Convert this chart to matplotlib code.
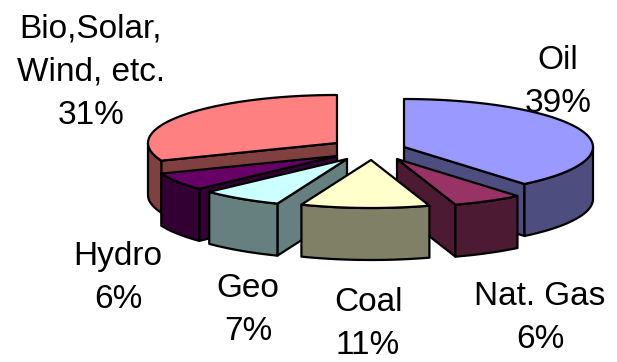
import numpy
import matplotlib
matplotlib.use("Agg")
import matplotlib.pyplot as plt
from matplotlib.patches import Polygon

## slices, clockwise from 12 o'clock
names = ["Oil", "Nat. Gas", "Coal", "Geo", "Hydro", "Bio,Solar,\nWind, etc."]
shares = [39, 6, 11, 7, 6, 31]

top_colours = ["#9999FF", "#993366", "#FFFFCC", "#CCFFFF", "#660066", "#FF8080"]
side_colours = ["#4D4D80", "#4D1A33", "#808066", "#668080", "#330033", "#804040"]

## layout, in figure pixels
cx, cy = 372., 145.
rx, ry = 189., 48.
depth = 52.
slice_dx = [32, 25, -1, -25, -35, -35]
slice_dy = [2, 14, 15, 14, 11, -2]
label_x = [558, 540, 368, 248, 118, 91]
label_y = [82, 318, 324, 310, 278, 72]
draw_order = [5, 0, 4, 1, 3, 2]
edge = dict(edgecolor="black", linewidth=1.6, joinstyle="round")

fig = plt.figure(figsize=(6.17, 3.62), dpi=100)
ax = fig.add_axes([0, 0, 1, 1])
ax.set_xlim(0, 617)
ax.set_ylim(362, 0)
ax.axis("off")

def rim(ox, oy, a0, a1):
  tt = numpy.radians(numpy.linspace(a0, a1, 80))
  return numpy.column_stack([ox + rx*numpy.cos(tt), oy - ry*numpy.sin(tt)])

def extrude(pts):
  return numpy.vstack([pts, (pts + [0, depth])[::-1]])

def add_slice(i, a0, a1):
  ox, oy = cx + slice_dx[i], cy + slice_dy[i]
  arc = rim(ox, oy, a0, a1)
  apex = numpy.array([ox, oy])
  side = dict(facecolor=side_colours[i], **edge)

  # cut faces, skip the ones turned away from the viewer
  if numpy.cos(numpy.radians(a0)) > 1e-6:
    ax.add_patch(Polygon(extrude(numpy.array([apex, arc[0]])), closed=True, **side))
  if numpy.cos(numpy.radians(a1)) < -1e-6:
    ax.add_patch(Polygon(extrude(numpy.array([apex, arc[-1]])), closed=True, **side))

  # rounded wall, only the part below the horizontal
  s, e = max(a0, -180.), min(a1, 0.)
  if e > s:
    ax.add_patch(Polygon(extrude(rim(ox, oy, s, e)), closed=True, **side))

  ax.add_patch(Polygon(numpy.vstack([apex, arc]), closed=True, facecolor=top_colours[i], **edge))

stops = 90. - numpy.cumsum([0] + shares)*3.6
for i in draw_order:
  add_slice(i, stops[i+1], stops[i])

for i in range(len(names)):
  ax.text(label_x[i], label_y[i], "%s\n%d%%" % (names[i], shares[i]), ha="center", va="center",
          family="Liberation Sans", fontsize=24, linespacing=1.5, color="black")

fig.savefig("out.png", dpi=100, facecolor="white")
